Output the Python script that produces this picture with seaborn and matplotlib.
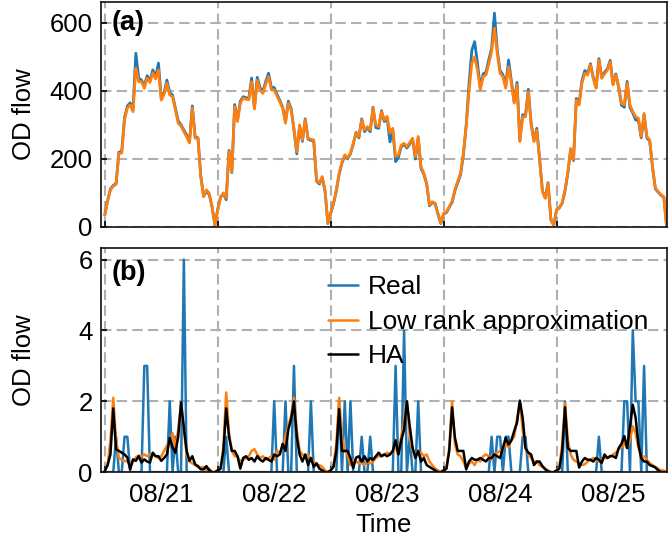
import matplotlib
matplotlib.use("Agg")
import pandas as pd
import matplotlib.pyplot as plt
import matplotlib.dates as mdates
from matplotlib.ticker import NullFormatter
import seaborn as sns

# 40 samples per day (36 min step), 08/21 - 08/25
START = "2017-08-21"
STEP = "36min"

# panel (a): total OD flow
real_top = [
    35, 78, 112, 122, 128, 220, 222, 322, 356, 365, 345, 511, 438, 432, 415, 445, 430, 462, 440, 482,
    380, 395, 432, 395, 388, 350, 312, 300, 285, 270, 250, 356, 265, 262, 150, 90, 105, 95, 58, 5,
    52, 88, 98, 80, 225, 160, 360, 315, 370, 383, 380, 378, 438, 350, 440, 410, 398, 428, 452, 410,
    410, 390, 372, 352, 310, 370, 348, 285, 215, 296, 252, 318, 258, 255, 252, 135, 126, 145, 106, 10,
    40, 68, 106, 155, 188, 210, 200, 215, 244, 278, 262, 318, 280, 292, 280, 352, 292, 290, 342, 310,
    320, 250, 285, 192, 205, 236, 242, 232, 244, 258, 200, 262, 172, 155, 126, 62, 72, 68, 38, 10,
    38, 42, 58, 72, 106, 130, 153, 212, 300, 420, 520, 545, 481, 410, 450, 455, 492, 525, 629, 520,
    460, 448, 415, 491, 430, 368, 425, 255, 330, 328, 405, 305, 255, 290, 200, 106, 86, 130, 22, 5,
    50, 56, 70, 106, 158, 228, 195, 378, 364, 430, 460, 452, 480, 440, 410, 495, 440, 455, 465, 490,
    420, 450, 410, 358, 352, 428, 352, 335, 315, 312, 262, 330, 262, 252, 174, 112, 102, 93, 87, 0,
]
lowrank_top = [
    35, 75, 109, 120, 125, 217, 217, 315, 350, 359, 339, 467, 427, 427, 408, 438, 425, 453, 435, 462,
    373, 390, 423, 388, 383, 344, 305, 297, 280, 265, 247, 350, 261, 261, 148, 89, 109, 99, 60, 5,
    50, 85, 100, 85, 221, 163, 354, 310, 364, 379, 376, 374, 427, 347, 432, 403, 393, 420, 442, 403,
    403, 385, 368, 349, 305, 364, 344, 290, 221, 300, 256, 315, 261, 258, 256, 138, 129, 148, 109, 11,
    40, 70, 109, 158, 190, 212, 203, 217, 247, 276, 266, 315, 285, 295, 285, 350, 300, 295, 339, 315,
    325, 276, 290, 207, 212, 241, 246, 236, 248, 261, 207, 266, 177, 158, 129, 65, 74, 70, 40, 11,
    40, 44, 60, 75, 110, 135, 158, 217, 295, 400, 482, 500, 461, 403, 442, 447, 480, 515, 585, 510,
    452, 442, 408, 471, 423, 364, 418, 251, 324, 324, 398, 300, 251, 285, 197, 104, 84, 128, 21, 5,
    50, 57, 71, 109, 160, 231, 197, 373, 359, 423, 452, 447, 476, 437, 408, 491, 437, 450, 461, 486,
    418, 447, 413, 364, 359, 423, 359, 340, 324, 320, 266, 334, 266, 256, 177, 114, 104, 95, 89, 0,
]

# panel (b): one OD pair
real_bottom = [
    0, 0, 0, 0, 1, 0, 0, 1, 1, 0, 0, 0, 0, 0, 3, 3, 0, 0, 0, 0,
    0, 0, 0, 2, 0, 1, 0, 0, 6, 0, 0, 0, 0, 0, 0, 0, 0, 0, 0, 0,
    0, 0, 0, 1, 0, 0, 0, 0, 0, 0, 0, 0, 0, 0, 0, 0, 0, 0, 0, 0,
    2, 0, 0, 0, 2, 0, 0, 3, 0, 0, 0, 0, 0, 2, 0, 0, 0, 0, 0, 0,
    0, 0, 0, 2, 0, 2, 0, 2, 0, 0, 0, 1, 0, 0, 1, 0, 0, 0, 0, 0,
    0, 0, 0, 3, 0, 0, 4, 0, 1, 0, 0, 2, 0, 0, 0, 0, 0, 0, 0, 0,
    0, 0, 0, 0, 0, 0, 0, 0, 0, 0, 0, 0, 0, 0, 0, 0, 0, 1, 0, 1,
    1, 0, 1, 1, 0, 0, 0, 0, 1, 1, 0, 0, 0, 0, 0, 0, 0, 0, 0, 0,
    0, 0, 0, 2, 0, 0, 0, 0, 0, 0, 0, 0, 0, 0, 0, 1, 0, 0, 0, 0,
    0, 0, 0, 0, 2, 2, 0, 4, 2, 2, 0, 3, 0, 0, 0, 0, 0, 0, 0, 0,
]
lowrank_bottom = [
    0.05, 0.2, 0.9, 2.1, 0.9, 0.4, 0.35, 0.32, 0.3, 0.2, 0.3, 0.42, 0.47, 0.45, 0.5, 0.45, 0.5, 0.5, 0.45, 0.4,
    0.45, 0.6, 0.75, 0.8, 1.1, 0.7, 1.2, 1.9, 1.2, 0.5, 0.3, 0.25, 0.2, 0.15, 0.12, 0.15, 0.05, 0.1, 0.0, 0.0,
    0.05, 0.1, 0.7, 2.25, 1.1, 0.6, 0.45, 0.45, 0.3, 0.35, 0.4, 0.45, 0.6, 0.65, 0.5, 0.4, 0.45, 0.35, 0.4, 0.45,
    0.35, 0.6, 0.55, 0.7, 1.0, 1.3, 1.6, 2.1, 1.2, 0.6, 0.5, 0.45, 0.5, 0.35, 0.3, 0.2, 0.2, 0.15, 0.05, 0.0,
    0.05, 0.2, 0.8, 2.1, 1.0, 0.6, 0.5, 0.2, 0.35, 0.3, 0.25, 0.25, 0.2, 0.3, 0.25, 0.3, 0.4, 0.45, 0.45, 0.5,
    0.55, 0.5, 0.6, 0.7, 0.5, 1.0, 1.4, 2.0, 1.0, 0.6, 0.5, 0.6, 0.55, 0.45, 0.5, 0.3, 0.2, 0.1, 0.05, 0.0,
    0.05, 0.1, 0.7, 2.0, 0.8, 0.5, 0.45, 0.3, 0.1, 0.25, 0.3, 0.2, 0.35, 0.3, 0.45, 0.5, 0.45, 0.35, 0.5, 0.55,
    0.6, 0.65, 0.8, 0.7, 0.9, 1.0, 1.5, 2.0, 1.2, 0.7, 0.5, 0.4, 0.3, 0.3, 0.2, 0.15, 0.1, 0.05, 0.0, 0.0,
    0.05, 0.15, 0.8, 1.95, 0.9, 0.5, 0.35, 0.3, 0.25, 0.2, 0.22, 0.3, 0.35, 0.4, 0.35, 0.3, 0.35, 0.4, 0.4, 0.45,
    0.5, 0.55, 0.65, 0.7, 0.8, 0.7, 0.9, 1.3, 1.1, 0.7, 0.4, 0.45, 0.35, 0.25, 0.2, 0.15, 0.1, 0.05, 0.05, 0.0,
]
ha_bottom = [
    0.03, 0.2, 0.5, 1.8, 0.64, 0.6, 0.55, 0.5, 0.41, 0.08, 0.36, 0.32, 0.45, 0.27, 0.36, 0.3, 0.27, 0.55, 0.45, 0.45,
    0.32, 0.4, 0.5, 0.97, 0.7, 0.55, 1.0, 1.97, 1.26, 0.6, 0.32, 0.45, 0.22, 0.17, 0.08, 0.08, 0.17, 0.05, 0.0, 0.0,
    0.05, 0.1, 0.6, 1.8, 1.0, 0.6, 0.6, 0.45, 0.1, 0.4, 0.45, 0.35, 0.4, 0.3, 0.45, 0.35, 0.3, 0.4, 0.35, 0.3,
    0.5, 0.45, 0.5, 0.8, 0.6, 1.2, 1.5, 2.0, 1.0, 0.5, 0.3, 0.5, 0.2, 0.4, 0.15, 0.25, 0.1, 0.05, 0.0, 0.0,
    0.05, 0.15, 0.6, 1.78, 0.6, 0.6, 0.6, 0.4, 0.12, 0.41, 0.45, 0.3, 0.45, 0.3, 0.4, 0.35, 0.45, 0.55, 0.45, 0.5,
    0.45, 0.5, 0.6, 0.9, 0.5, 0.9, 1.2, 2.0, 1.3, 0.7, 0.4, 0.6, 0.3, 0.4, 0.2, 0.15, 0.1, 0.05, 0.0, 0.0,
    0.05, 0.1, 0.6, 1.83, 0.98, 0.6, 0.6, 0.6, 0.08, 0.3, 0.4, 0.35, 0.35, 0.4, 0.35, 0.3, 0.4, 0.4, 0.5, 0.45,
    0.4, 0.68, 0.97, 0.78, 0.9, 1.16, 1.4, 2.02, 1.54, 0.68, 0.55, 0.5, 0.2, 0.3, 0.3, 0.17, 0.08, 0.02, 0.0, 0.0,
    0.05, 0.1, 0.6, 1.83, 0.68, 0.6, 0.6, 0.6, 0.13, 0.3, 0.4, 0.35, 0.35, 0.3, 0.4, 0.35, 0.26, 0.5, 0.4, 0.45,
    0.45, 0.4, 0.68, 0.8, 1.02, 0.68, 1.3, 1.9, 1.54, 0.78, 0.4, 0.3, 0.3, 0.2, 0.17, 0.13, 0.05, 0.0, 0.0, 0.0,
]

BLUE = "#1f77b4"
ORANGE = "#ff7f0e"
FONT_SIZE = 18.5


def style_axis(ax, times):
    ax.grid(True, which="major", linestyle=(0, (5, 2.5)), color="#b0b0b0", linewidth=1.5)
    ax.xaxis.set_major_locator(mdates.DayLocator())
    ax.xaxis.set_major_formatter(NullFormatter())
    ax.xaxis.set_minor_locator(mdates.HourLocator(byhour=12))
    ax.xaxis.set_minor_formatter(mdates.DateFormatter("%m/%d"))
    ax.tick_params(axis="x", which="major", direction="in", length=4, width=1.2, color="black")
    ax.tick_params(axis="x", which="minor", length=0, pad=8, labelsize=FONT_SIZE, labelcolor="black")
    ax.tick_params(axis="y", direction="in", length=4, width=1.2, pad=6, labelsize=FONT_SIZE,
                   color="black", labelcolor="black")
    ax.set_xlim(times[0] - pd.Timedelta(minutes=50), times[-1])
    for spine in ax.spines.values():
        spine.set_visible(True)
        spine.set_color("#111111")
        spine.set_linewidth(1.2)


def main():
    sns.set_theme(style="ticks")
    plt.rcParams["font.family"] = ["Liberation Sans", "DejaVu Sans"]
    plt.rcParams["font.size"] = FONT_SIZE
    plt.rcParams["text.color"] = "black"
    plt.rcParams["axes.labelcolor"] = "black"

    times = pd.date_range(START, periods=len(real_top), freq=STEP)

    fig = plt.figure(figsize=(6.68, 5.39), dpi=100)
    ax1 = fig.add_axes([0.151, 0.579, 0.847, 0.4175])
    ax2 = fig.add_axes([0.151, 0.124, 0.847, 0.416])

    # (a)
    sns.lineplot(x=times, y=real_top, ax=ax1, color=BLUE, linewidth=2.0)
    sns.lineplot(x=times, y=lowrank_top, ax=ax1, color=ORANGE, linewidth=2.0)
    style_axis(ax1, times)
    ax1.set_ylim(0, 662)
    ax1.set_yticks([0, 200, 400, 600])
    ax1.tick_params(axis="x", which="both", labelbottom=False)
    ax1.set_xlabel("")
    ax1.set_ylabel("OD flow", fontsize=FONT_SIZE)
    ax1.yaxis.set_label_coords(-0.115, 0.5)
    ax1.text(0.019, 0.965, "(a)", transform=ax1.transAxes, va="top", ha="left",
             fontsize=19.5, fontweight="bold")

    # (b)
    sns.lineplot(x=times, y=real_bottom, ax=ax2, color=BLUE, linewidth=1.8, label="Real")
    sns.lineplot(x=times, y=lowrank_bottom, ax=ax2, color=ORANGE, linewidth=1.8,
                 label="Low rank approximation")
    sns.lineplot(x=times, y=ha_bottom, ax=ax2, color="black", linewidth=1.8, label="HA")
    style_axis(ax2, times)
    ax2.set_ylim(0, 6.33)
    ax2.set_yticks([0, 2, 4, 6])
    ax2.set_ylabel("OD flow", fontsize=FONT_SIZE)
    ax2.yaxis.set_label_coords(-0.115, 0.5)
    ax2.set_xlabel("Time", fontsize=FONT_SIZE)
    ax2.xaxis.set_label_coords(0.5, -0.18)
    ax2.text(0.019, 0.945, "(b)", transform=ax2.transAxes, va="top", ha="left",
             fontsize=19.5, fontweight="bold")
    ax2.legend(loc="upper left", bbox_to_anchor=(0.383, 0.925), borderaxespad=0,
               frameon=False, fontsize=19, handlelength=1.12,
               handletextpad=0.4, labelspacing=0.4)

    fig.savefig("out.png", dpi=100)
    plt.close(fig)


if __name__ == "__main__":
    main()
